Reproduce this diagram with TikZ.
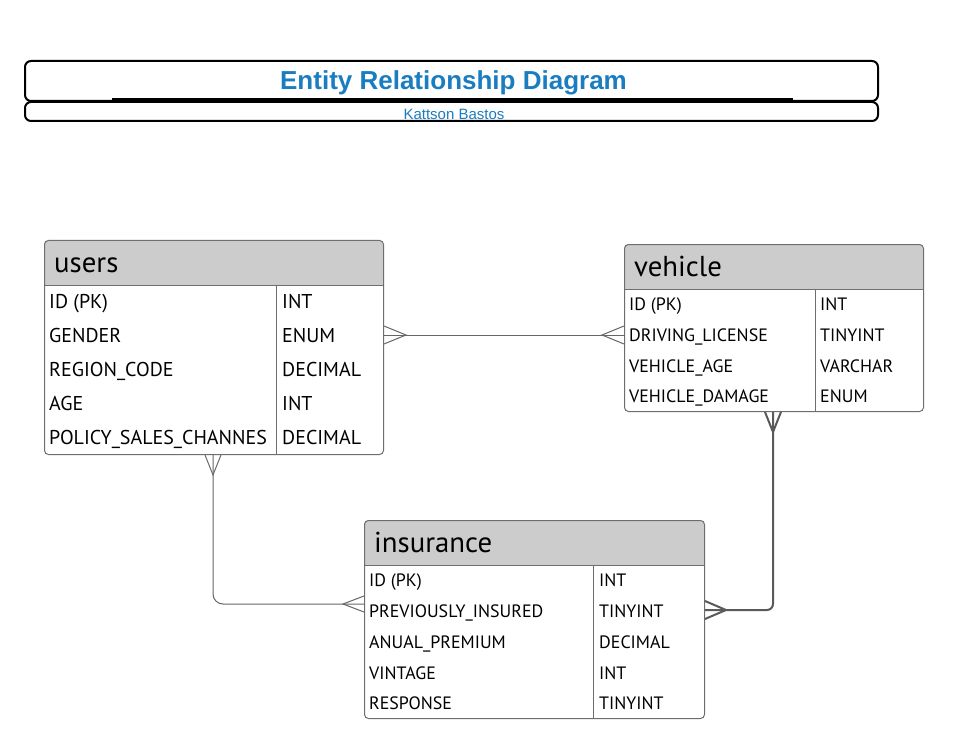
\documentclass[tikz,border=0pt]{standalone}
\usepackage{fontspec}
\setmainfont{PT Sans}
\newfontfamily\titlefont{Liberation Sans}
\usetikzlibrary{calc}
\definecolor{hdr}{HTML}{CCCCCC}
\definecolor{ttl}{HTML}{1B7DC1}
\definecolor{edgec}{HTML}{6E6E6E}
\definecolor{connc}{HTML}{666666}
\definecolor{conndk}{HTML}{5A5A5A}
\begin{document}
\begin{tikzpicture}[x=1pt,y=-1pt,
  tbl/.style={draw=edgec, line width=1, rounded corners=4, anchor=north west, inner sep=0},
  hdrtext/.style={anchor=base west, inner sep=0, font=\fontsize{28.8}{32}\selectfont},
  fldA/.style={anchor=base west, inner sep=0, font=\fontsize{20}{23}\selectfont},
  fldB/.style={anchor=base west, inner sep=0, font=\fontsize{17.9}{21}\selectfont},
  conn/.style={draw=connc, line width=1},
  connthick/.style={draw=conndk, line width=2},
  boxtitle/.style={draw=black, line width=2, rounded corners=6, anchor=north west, inner sep=0}
]
\useasboundingbox (0,0) rectangle (953,746);
\fill[white] (0,0) rectangle (953,746);

% ---------- title ----------
\node[boxtitle, minimum width=853, minimum height=40] (titlebox) at (24,60) {};
\node[boxtitle, minimum width=853, minimum height=19] (subbox) at (24,101) {};
\coordinate (ulA) at (112,100);
\coordinate (ulB) at (793,100);
\draw[line width=3] (ulA) -- (ulB);
\node[font=\titlefont\bfseries\fontsize{26}{29}\selectfont, text=ttl, inner sep=0, anchor=base] (title) at (453.5,89.5) {Entity Relationship Diagram};
\node[font=\titlefont\fontsize{15}{17}\selectfont, text=ttl, inner sep=0, anchor=base] (subtitle) at (454,119.5) {Kattson Bastos};

% ---------- users ----------
\begin{scope}
  \clip[rounded corners=4] (44,240) rectangle (383,454);
  \fill[hdr] (44,240) rectangle (383,285);
\end{scope}
\node[tbl, minimum width=339, minimum height=214] (users) at (44,240) {};
\draw[edgec] (44,285) -- (383,285);
\draw[edgec] (276,285) -- (276,454);
\node[hdrtext] (users-t) at (54,272) {users};
\node[fldA] (u1) at (49,308) {ID (PK)};
\node[fldA] (u2) at (49,342) {GENDER};
\node[fldA] (u3) at (49,376) {REGION\_CODE};
\node[fldA] (u4) at (49,410) {AGE};
\node[fldA] (u5) at (49,444) {POLICY\_SALES\_CHANNES};
\node[fldA] (u1t) at (282,308) {INT};
\node[fldA] (u2t) at (282,342) {ENUM};
\node[fldA] (u3t) at (282,376) {DECIMAL};
\node[fldA] (u4t) at (282,410) {INT};
\node[fldA] (u5t) at (282,444) {DECIMAL};

% ---------- vehicle ----------
\begin{scope}
  \clip[rounded corners=4] (624,244) rectangle (923,411);
  \fill[hdr] (624,244) rectangle (923,289);
\end{scope}
\node[tbl, minimum width=299, minimum height=167] (vehicle) at (624,244) {};
\draw[edgec] (624,289) -- (923,289);
\draw[edgec] (815,289) -- (815,411);
\node[hdrtext] (vehicle-t) at (634,276) {vehicle};
\node[fldB] (v1) at (629,310) {ID (PK)};
\node[fldB] (v2) at (629,341) {DRIVING\_LICENSE};
\node[fldB] (v3) at (629,372) {VEHICLE\_AGE};
\node[fldB] (v4) at (629,402) {VEHICLE\_DAMAGE};
\node[fldB] (v1t) at (820,310) {INT};
\node[fldB] (v2t) at (820,341) {TINYINT};
\node[fldB] (v3t) at (820,372) {VARCHAR};
\node[fldB] (v4t) at (820,402) {ENUM};

% ---------- insurance ----------
\begin{scope}
  \clip[rounded corners=4] (364,520) rectangle (704,718);
  \fill[hdr] (364,520) rectangle (704,565);
\end{scope}
\node[tbl, minimum width=340, minimum height=198] (insurance) at (364,520) {};
\draw[edgec] (364,565) -- (704,565);
\draw[edgec] (593,565) -- (593,718);
\node[hdrtext] (insurance-t) at (374,552) {insurance};
\node[fldB] (i1) at (369,586) {ID (PK)};
\node[fldB] (i2) at (369,617) {PREVIOUSLY\_INSURED};
\node[fldB] (i3) at (369,648) {ANUAL\_PREMIUM};
\node[fldB] (i4) at (369,679) {VINTAGE};
\node[fldB] (i5) at (369,709) {RESPONSE};
\node[fldB] (i1t) at (599,586) {INT};
\node[fldB] (i2t) at (599,617) {TINYINT};
\node[fldB] (i3t) at (599,648) {DECIMAL};
\node[fldB] (i4t) at (599,679) {INT};
\node[fldB] (i5t) at (599,709) {TINYINT};

% ---------- connectors ----------
% users -- vehicle
\coordinate (uR) at (users.east |- 0,335);
\coordinate (vL) at (vehicle.west |- 0,335);
\draw[conn] (uR) -- (vL);
\draw[conn] ($(uR)+(0,-9)$) -- ($(uR)+(22,0)$) -- ($(uR)+(0,9)$);
\draw[conn] ($(vL)+(0,-9)$) -- ($(vL)+(-22,0)$) -- ($(vL)+(0,9)$);

% users -- insurance
\coordinate (uB) at (users.south -| 213,0);
\coordinate (iL) at (insurance.west |- 0,604);
\draw[conn, rounded corners=10] (uB) |- (iL);
\draw[conn] ($(uB)+(-8,0)$) -- ($(uB)+(0,20)$) -- ($(uB)+(8,0)$);
\draw[conn] ($(iL)+(0,-8)$) -- ($(iL)+(-21,0)$) -- ($(iL)+(0,8)$);

% vehicle -- insurance
\coordinate (vB) at (vehicle.south -| 773,0);
\coordinate (iR) at (insurance.east |- 0,610);
\draw[connthick, rounded corners=6] (vB) |- (iR);
\draw[connthick] ($(vB)+(-8,0)$) -- ($(vB)+(0,20)$) -- ($(vB)+(8,0)$);
\draw[connthick] ($(iR)+(0,-9)$) -- ($(iR)+(21,0)$) -- ($(iR)+(0,9)$);
\end{tikzpicture}
\end{document}
